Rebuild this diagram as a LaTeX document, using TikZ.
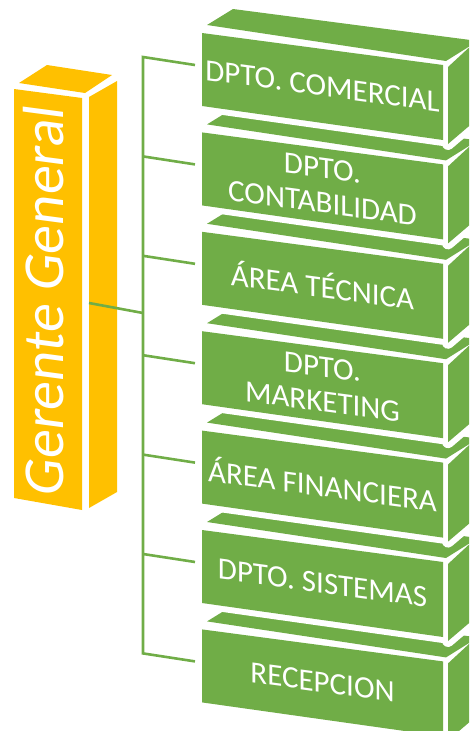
\documentclass[tikz,border=0pt]{standalone}
\usepackage{fontspec}
\setmainfont{Carlito}
\definecolor{boxgreen}{HTML}{70AD47}
\definecolor{boxgold}{HTML}{FFC000}
\tikzset{
  halo/.style={draw=white, fill=white, line width=12pt, line join=round},
  face/.style={fill=boxgreen},
  goldface/.style={fill=boxgold},
  deptlabel/.style={text=white, align=center, inner sep=0pt, yslant=-0.135,
    font=\fontsize{31}{35}\selectfont},
  link/.style={draw=boxgreen, line width=2.6pt, line join=miter},
}
% one department block: #1 = row index, #2 = node name, #3 = label
\newcommand\deptblock[3]{%
  \begin{scope}[yshift=-#1*99.4pt]
    \path[halo] (202,-33) -- (443,-65) -- (443,-140) -- (202,-106) -- cycle;
    \path[halo] (448,-67) -- (475,-42) -- (475,-121) -- (448,-144) -- cycle;
    \fill[face] (207,-25) -- (233,-9) -- (478,-41) -- (446,-61) -- cycle;
    \fill[face] (202,-33) -- (443,-65) -- (443,-140) -- (202,-106) -- cycle;
    \fill[face] (448,-67) -- (475,-42) -- (475,-121) -- (448,-144) -- cycle;
    \node[deptlabel] (#2) at (322.5,-86) {#3};
    \coordinate (#2-in) at (195,-65);
    \coordinate (#2-bus) at (143,-57);
  \end{scope}}
\begin{document}
\begin{tikzpicture}[x=1pt,y=1pt]
  \useasboundingbox (0,0) rectangle (469,-731);
  \clip (0,0) rectangle (469,-731);

  % department blocks, stacked from the bottom up
  \deptblock{6}{rec}{RECEPCION}
  \deptblock{5}{sis}{DPTO. SISTEMAS}
  \deptblock{4}{fin}{ÁREA FINANCIERA}
  \deptblock{3}{mkt}{DPTO.\\MARKETING}
  \deptblock{2}{tec}{ÁREA TÉCNICA}
  \deptblock{1}{con}{DPTO.\\CONTABILIDAD}
  \deptblock{0}{com}{DPTO. COMERCIAL}

  % general manager column
  \fill[goldface] (19,-83) -- (47,-65) -- (112,-75) -- (85,-93) -- cycle;
  \fill[goldface] (14,-89) -- (82,-98) -- (82,-510) -- (14,-498) -- cycle;
  \fill[goldface] (89,-97) -- (117,-81) -- (117,-492) -- (89,-508) -- cycle;
  \node[text=white, inner sep=0pt, cm={0,1,-1,0.133,(0,0)},
        font=\fontsize{58}{60}\selectfont] (gg) at (44,-300) {Gerente General};
  \coordinate (gg-out) at (89,-303);
  \coordinate (gg-bus) at (143,-313);

  % connectors
  \draw[link] (com-in) -- (com-bus) -- (rec-bus) -- (rec-in);
  \foreach \n in {con,tec,mkt,fin,sis} \draw[link] (\n-bus) -- (\n-in);
  \draw[link] (gg-out) -- (gg-bus);
\end{tikzpicture}
\end{document}
